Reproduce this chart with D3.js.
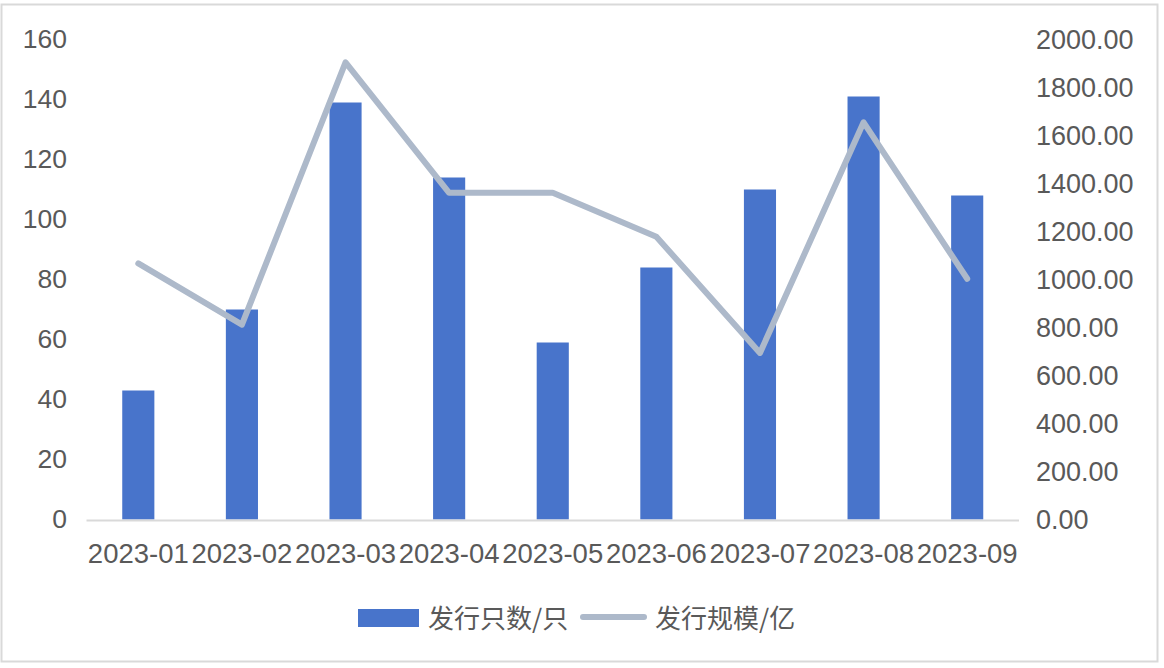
<!DOCTYPE html>
<html>
<head>
<meta charset="utf-8">
<script src="https://cdn.jsdelivr.net/npm/d3@7/dist/d3.min.js"></script>
<style>
  html, body { margin: 0; padding: 0; background: #fff; }
  text { font-family: "Liberation Sans", Arial, Helvetica, sans-serif; fill: #595959; }
  .cjk { font-family: "Noto Sans CJK SC", "Liberation Sans", sans-serif; }
</style>
</head>
<body>
<div id="chart"></div>
<script>
var months = ["2023-01", "2023-02", "2023-03", "2023-04", "2023-05", "2023-06", "2023-07", "2023-08", "2023-09"];
var counts = [43, 70, 139, 114, 59, 84, 110, 141, 108];
var amounts = [1067, 812, 1905, 1361, 1361, 1178, 694, 1655, 1003];
var leftTicks = [0, 20, 40, 60, 80, 100, 120, 140, 160];
var rightTicks = [0, 200, 400, 600, 800, 1000, 1200, 1400, 1600, 1800, 2000];
var seriesNames = ["发行只数/只", "发行规模/亿"];

var cfg = {
    width: 1164,
    height: 668,
    left: 86.5,
    right: 1019,
    top: 39.5,
    bottom: 519.5,
    barColor: "#4874CB",
    lineColor: "#ADB9CA"
  };

var svg = d3.select("#chart").append("svg")
              .attr("width", cfg.width)
              .attr("height", cfg.height);

// outer frame
svg.append("rect")
    .attr("x", 1.5)
    .attr("y", 4.5)
    .attr("width", 1156)
    .attr("height", 657)
    .style("fill", "none")
    .style("stroke", "#D9D9D9")
    .style("stroke-width", 2);

var x = d3.scaleBand()
            .domain(months)
            .range([cfg.left, cfg.right])
            .padding(0);

var yLeft = d3.scaleLinear().domain([0, 160]).range([cfg.bottom, cfg.top]);
var yRight = d3.scaleLinear().domain([0, 2000]).range([cfg.bottom, cfg.top]);

var barW = x.bandwidth() * 0.31;

function styleLabels(g, size) {
  g.select(".domain").remove();
  g.selectAll("text")
      .style("font-size", size)
      .style("fill", "#595959")
      .style("font-family", "'Liberation Sans', Arial, sans-serif");
}

// left axis labels
svg.append("g")
    .attr("transform", "translate(" + 67 + ",0)")
    .call(d3.axisLeft(yLeft).tickValues(leftTicks).tickSize(0).tickPadding(0))
    .call(styleLabels, "26.5px");

// right axis labels
svg.append("g")
    .attr("transform", "translate(" + 1036 + ",0)")
    .call(d3.axisRight(yRight).tickValues(rightTicks).tickSize(0).tickPadding(0)
            .tickFormat(d3.format(".2f")))
    .call(styleLabels, "27px");

// bars
svg.selectAll(".bar")
    .data(counts).enter()
    .append("rect")
    .attr("class", "bar")
    .attr("x", function(d, i) { return x(months[i]) + x.bandwidth() / 2 - barW / 2; })
    .attr("y", function(d) { return yLeft(d); })
    .attr("width", barW)
    .attr("height", function(d) { return yLeft(0) - yLeft(d); })
    .style("fill", cfg.barColor);

// baseline
svg.append("line")
    .attr("x1", cfg.left)
    .attr("x2", cfg.right)
    .attr("y1", yLeft(0) + 1)
    .attr("y2", yLeft(0) + 1)
    .style("stroke", "#D9D9D9")
    .style("stroke-width", 2);

// x labels
svg.append("g")
    .attr("transform", "translate(0," + cfg.bottom + ")")
    .call(d3.axisBottom(x).tickSize(0).tickPadding(24))
    .call(styleLabels, "27.5px");

// line
var line = d3.line()
    .x(function(d, i) { return x(months[i]) + x.bandwidth() / 2; })
    .y(function(d) { return yRight(d); });

svg.append("path")
    .datum(amounts)
    .attr("d", line)
    .style("fill", "none")
    .style("stroke", cfg.lineColor)
    .style("stroke-width", 6)
    .style("stroke-linecap", "round")
    .style("stroke-linejoin", "round");

// legend
var legend = svg.append("g");
legend.append("rect")
    .attr("x", 358)
    .attr("y", 609)
    .attr("width", 61)
    .attr("height", 18)
    .style("fill", cfg.barColor);
legend.append("text")
    .attr("class", "cjk")
    .attr("x", 428)
    .attr("y", 619)
    .attr("dy", "0.35em")
    .style("font-size", "26px")
    .text(seriesNames[0]);
legend.append("line")
    .attr("x1", 583)
    .attr("x2", 644)
    .attr("y1", 617)
    .attr("y2", 617)
    .style("stroke", cfg.lineColor)
    .style("stroke-width", 6)
    .style("stroke-linecap", "round");
legend.append("text")
    .attr("class", "cjk")
    .attr("x", 655)
    .attr("y", 619)
    .attr("dy", "0.35em")
    .style("font-size", "26px")
    .text(seriesNames[1]);
</script>
</body>
</html>
